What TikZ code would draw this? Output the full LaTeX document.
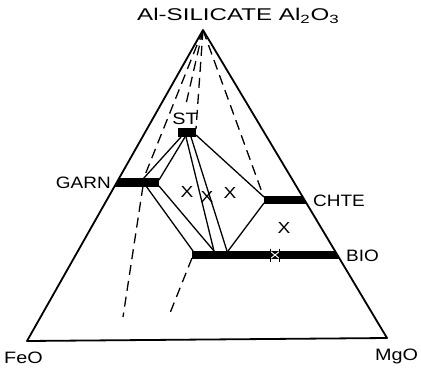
\documentclass[tikz,border=0pt]{standalone}
\usepackage{fontspec}
\setmainfont{Liberation Sans}
\usepackage{graphicx}
\newcommand{\wlab}[2]{\scalebox{#1}[1]{#2}}
\begin{document}
\begin{tikzpicture}[x=1pt,y=-1pt,
  edge/.style={line width=1.8pt, line join=round},
  tie/.style={line width=1.3pt},
  dtie/.style={line width=1.3pt, dash pattern=on 10pt off 6pt},
  bar/.style={fill=black},
  lab/.style={font=\fontsize{16.5}{18}\selectfont, inner sep=0pt},
  xm/.style={font=\fontsize{16}{18}\selectfont, inner sep=0pt}]
\useasboundingbox (0,0) rectangle (421,368);
% corners
\coordinate (A) at (203,30);
\coordinate (F) at (27,341);
\coordinate (M) at (387,338);
% bars clipped to triangle
\begin{scope}
\clip (A) -- (F) -- (M) -- cycle;
\fill[bar] (110,177.5) rectangle (159,186.5);
\fill[bar] (178,128) rectangle (196,137);
\fill[bar] (264,195.5) rectangle (310,203.5);
\fill[bar] (192,250.5) rectangle (345,259);
\end{scope}
\draw[edge] (A) -- (F) -- (M) -- cycle;
% tie points
\coordinate (st1) at (181,137);
\coordinate (st2) at (185,137);
\coordinate (st3) at (186,137);
\coordinate (st4) at (191,137);
\coordinate (st5) at (196,135);
\coordinate (g1) at (143,179);
\coordinate (g2) at (159,180);
\coordinate (g3) at (146,186);
\coordinate (g4) at (159,186);
\coordinate (c1) at (264,197);
\coordinate (c2) at (264,203);
\coordinate (b1) at (193,251);
\coordinate (b2) at (214,251);
\coordinate (b3) at (227,251);
\coordinate (b4) at (228,251);
% solid tie lines
\draw[tie] (st1) -- (g1);
\draw[tie] (st2) -- (g2);
\draw[tie] (st3) -- (b2);
\draw[tie] (st4) -- (b3);
\draw[tie] (st5) -- (c1);
\draw[tie] (c2) -- (b4);
\draw[tie] (g3) -- (b1);
\draw[tie] (g4) -- (b2);
% dashed lines
\coordinate (g5) at (143,180);
\coordinate (sa) at (186,104);
\coordinate (sb) at (196,129);
\coordinate (c3) at (263,195);
\coordinate (g6) at (143,186);
\coordinate (e1) at (123,317);
\coordinate (b5) at (192,258);
\coordinate (e2) at (170,313);
\draw[dtie] (A) -- (g5);
\draw[dtie] (A) -- (sa);
\draw[dtie] (A) -- (sb);
\draw[dtie] (A) -- (c3);
\draw[dtie] (g6) -- (e1);
\draw[dtie] (b5) -- (e2);
% mark on BIO bar
\draw[white, line width=1pt] (271,251.8) -- (279,258.2) (271,258.2) -- (279,251.8);
\draw[line width=0.9pt] (270.5,248.5) -- (270.5,261.5) (279.5,248.5) -- (279.5,261.5);
% X marks
\node[xm] (x1) at (187,192) {\wlab{1.2}{X}};
\node[xm] (x2) at (207,197) {\wlab{1.2}{X}};
\node[xm] (x3) at (230,193) {\wlab{1.2}{X}};
\node[xm] (x4) at (284,228) {\wlab{1.2}{X}};
% labels
\node[lab, font=\fontsize{17}{19}\selectfont, anchor=base west] (title) at (137,20.5) {\wlab{1.42}{Al-SILICATE Al\textsubscript{2}O\textsubscript{3}}};
\node[lab, anchor=base] (st) at (185,124) {\wlab{1.2}{ST}};
\node[lab, anchor=base east] (garn) at (111,188) {\wlab{1.15}{GARN}};
\node[lab, anchor=base west] (chte) at (313,206) {\wlab{1.15}{CHTE}};
\node[lab, anchor=base west] (bio) at (346,261) {\wlab{1.15}{BIO}};
\node[lab, anchor=base west] (feo) at (4,363) {\wlab{1.2}{FeO}};
\node[lab, anchor=base west] (mgo) at (375,360) {\wlab{1.2}{MgO}};
\end{tikzpicture}
\end{document}
